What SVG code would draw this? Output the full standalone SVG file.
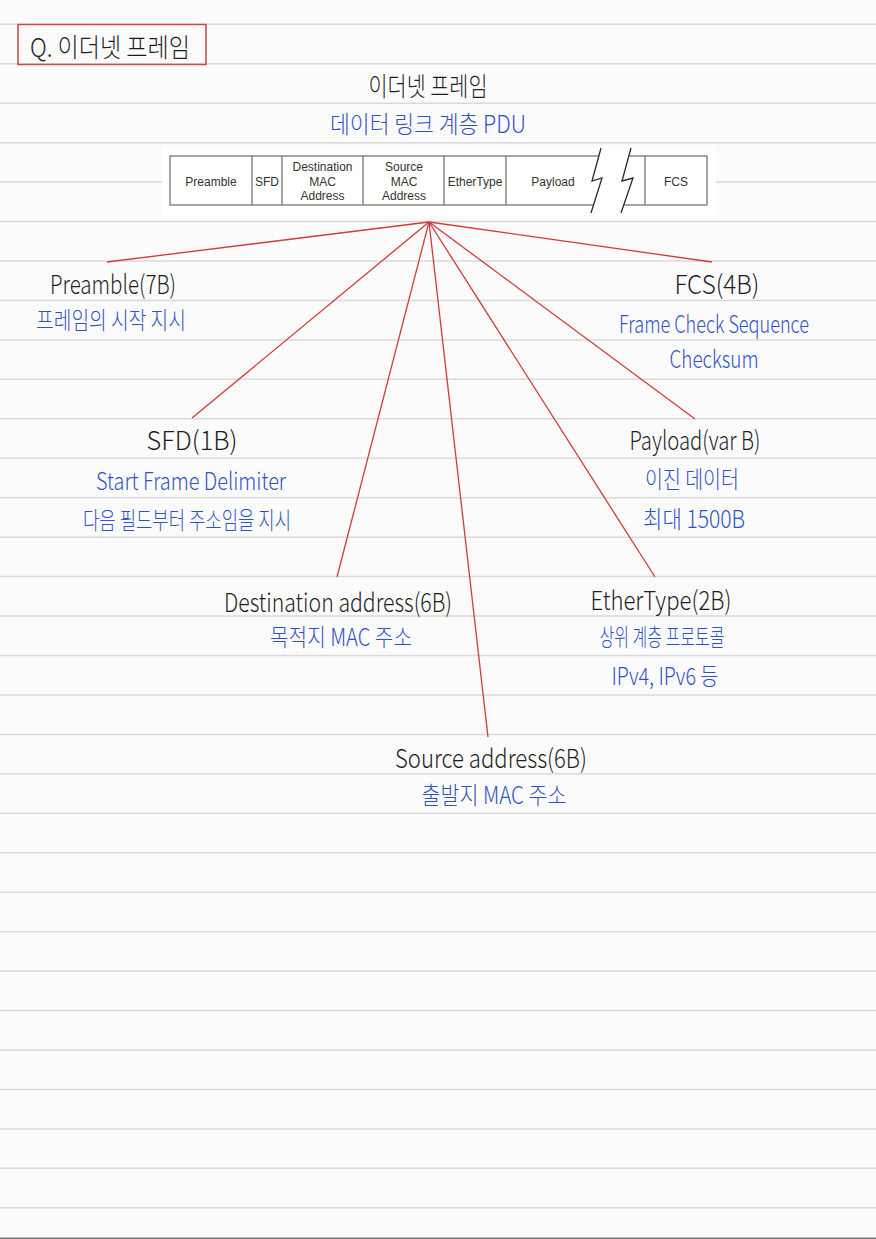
<svg xmlns="http://www.w3.org/2000/svg" width="876" height="1239" viewBox="0 0 876 1239">
<style>
.pl{stroke:#dadada;stroke-width:1.5}
.hk{font-family:"Noto Sans CJK KR","Noto Sans",sans-serif;font-weight:300;fill:#1e1e1e;font-size:26px;text-anchor:middle}
.hb{font-family:"Noto Sans CJK KR","Noto Sans",sans-serif;font-weight:300;fill:#3051c4;font-size:24px;text-anchor:middle}
.tt{font-family:"Liberation Sans",Arial,sans-serif;font-size:12px;fill:#333330;text-anchor:middle}
.cell{stroke:#77776e;stroke-width:1.3;fill:none}
.conn{stroke:#d23a3a;stroke-width:1.3;fill:none}
</style>
<defs>
<linearGradient id="beige" x1="0" y1="0" x2="0" y2="1">
<stop offset="0" stop-color="#e5ddcc"/>
<stop offset="1" stop-color="#f8f5ed"/>
</linearGradient>
</defs>
<rect x="0" y="0" width="876" height="1239" fill="#fbfbfb"/>
<g id="paper-lines">
<line class="pl" x1="0" y1="24.3" x2="876" y2="24.3"/>
<line class="pl" x1="0" y1="63.75" x2="876" y2="63.75"/>
<line class="pl" x1="0" y1="103.2" x2="876" y2="103.2"/>
<line class="pl" x1="0" y1="142.65" x2="876" y2="142.65"/>
<line class="pl" x1="0" y1="182.1" x2="876" y2="182.1"/>
<line class="pl" x1="0" y1="221.55" x2="876" y2="221.55"/>
<line class="pl" x1="0" y1="261" x2="876" y2="261"/>
<line class="pl" x1="0" y1="300.45" x2="876" y2="300.45"/>
<line class="pl" x1="0" y1="339.9" x2="876" y2="339.9"/>
<line class="pl" x1="0" y1="379.35" x2="876" y2="379.35"/>
<line class="pl" x1="0" y1="418.8" x2="876" y2="418.8"/>
<line class="pl" x1="0" y1="458.25" x2="876" y2="458.25"/>
<line class="pl" x1="0" y1="497.7" x2="876" y2="497.7"/>
<line class="pl" x1="0" y1="537.15" x2="876" y2="537.15"/>
<line class="pl" x1="0" y1="576.6" x2="876" y2="576.6"/>
<line class="pl" x1="0" y1="616.05" x2="876" y2="616.05"/>
<line class="pl" x1="0" y1="655.5" x2="876" y2="655.5"/>
<line class="pl" x1="0" y1="694.95" x2="876" y2="694.95"/>
<line class="pl" x1="0" y1="734.4" x2="876" y2="734.4"/>
<line class="pl" x1="0" y1="773.85" x2="876" y2="773.85"/>
<line class="pl" x1="0" y1="813.3" x2="876" y2="813.3"/>
<line class="pl" x1="0" y1="852.75" x2="876" y2="852.75"/>
<line class="pl" x1="0" y1="892.2" x2="876" y2="892.2"/>
<line class="pl" x1="0" y1="931.65" x2="876" y2="931.65"/>
<line class="pl" x1="0" y1="971.1" x2="876" y2="971.1"/>
<line class="pl" x1="0" y1="1010.55" x2="876" y2="1010.55"/>
<line class="pl" x1="0" y1="1050" x2="876" y2="1050"/>
<line class="pl" x1="0" y1="1089.45" x2="876" y2="1089.45"/>
<line class="pl" x1="0" y1="1128.9" x2="876" y2="1128.9"/>
<line class="pl" x1="0" y1="1168.35" x2="876" y2="1168.35"/>
<line class="pl" x1="0" y1="1207.8" x2="876" y2="1207.8"/>
<line x1="0" y1="1238.3" x2="876" y2="1238.3" stroke="#777" stroke-width="1.5"/>
</g>
<g id="title">
<rect x="18" y="24.5" width="188" height="40" fill="none" stroke="#d04545" stroke-width="1.5"/>
<text x="110" y="57" class="hk" font-size="27" textLength="160" lengthAdjust="spacingAndGlyphs">Q. 이더넷 프레임</text>
</g>
<g id="heading">
<text x="428" y="96" class="hk" font-size="27" textLength="119" lengthAdjust="spacingAndGlyphs">이더넷 프레임</text>
<text x="428" y="133" class="hb" textLength="196" lengthAdjust="spacingAndGlyphs">데이터 링크 계층 PDU</text>
</g>
<g id="frame">
<rect x="162" y="146" width="554" height="70" fill="#ffffff"/>
<rect x="170" y="156" width="537" height="49" fill="url(#beige)" class="cell"/>
<line class="cell" x1="252" y1="156" x2="252" y2="205"/>
<line class="cell" x1="282" y1="156" x2="282" y2="205"/>
<line class="cell" x1="363" y1="156" x2="363" y2="205"/>
<line class="cell" x1="444" y1="156" x2="444" y2="205"/>
<line class="cell" x1="506" y1="156" x2="506" y2="205"/>
<line class="cell" x1="645" y1="156" x2="645" y2="205"/>
<polygon points="601,148 592,181 602,178 591,213 621,213 633,178 622,181 631,148" fill="#ffffff"/>
<polyline points="601,148 592,181 602,178 591,213" fill="none" stroke="#2a2a2a" stroke-width="1.3"/>
<polyline points="631,148 622,181 633,178 621,213" fill="none" stroke="#2a2a2a" stroke-width="1.3"/>
<text class="tt" x="211" y="185.5">Preamble</text>
<text class="tt" x="267" y="185.5">SFD</text>
<text class="tt" x="322.5" y="171">Destination</text>
<text class="tt" x="322.5" y="185.5">MAC</text>
<text class="tt" x="322.5" y="200">Address</text>
<text class="tt" x="404" y="171">Source</text>
<text class="tt" x="404" y="185.5">MAC</text>
<text class="tt" x="404" y="200">Address</text>
<text class="tt" x="475" y="185.5">EtherType</text>
<text class="tt" x="553" y="185.5">Payload</text>
<text class="tt" x="676" y="185.5">FCS</text>
</g>
<g id="connectors">
<line class="conn" x1="429" y1="222" x2="107" y2="262"/>
<line class="conn" x1="429" y1="222" x2="192" y2="418"/>
<line class="conn" x1="429" y1="222" x2="337" y2="577"/>
<line class="conn" x1="429" y1="222" x2="488" y2="737"/>
<line class="conn" x1="429" y1="222" x2="655" y2="577"/>
<line class="conn" x1="429" y1="222" x2="695" y2="419"/>
<line class="conn" x1="429" y1="222" x2="712" y2="262"/>
</g>
<g id="node-preamble">
<text x="113" y="294" class="hk" textLength="126" lengthAdjust="spacingAndGlyphs">Preamble(7B)</text>
<text x="111" y="329" class="hb" textLength="150" lengthAdjust="spacingAndGlyphs">프레임의 시작 지시</text>
</g>
<g id="node-fcs">
<text x="717" y="294" class="hk" textLength="85" lengthAdjust="spacingAndGlyphs">FCS(4B)</text>
<text x="714" y="333" class="hb" textLength="190" lengthAdjust="spacingAndGlyphs">Frame Check Sequence</text>
<text x="714" y="368" class="hb" textLength="89" lengthAdjust="spacingAndGlyphs">Checksum</text>
</g>
<g id="node-sfd">
<text x="192" y="450" class="hk" textLength="91" lengthAdjust="spacingAndGlyphs">SFD(1B)</text>
<text x="191" y="490" class="hb" textLength="190" lengthAdjust="spacingAndGlyphs">Start Frame Delimiter</text>
<text x="187" y="529" class="hb" textLength="208" lengthAdjust="spacingAndGlyphs">다음 필드부터 주소임을 지시</text>
</g>
<g id="node-payload">
<text x="695" y="450" class="hk" textLength="131" lengthAdjust="spacingAndGlyphs">Payload(var B)</text>
<text x="692" y="488" class="hb" textLength="94" lengthAdjust="spacingAndGlyphs">이진 데이터</text>
<text x="694" y="528" class="hb" textLength="102" lengthAdjust="spacingAndGlyphs">최대 1500B</text>
</g>
<g id="node-destination">
<text x="338" y="612" class="hk" textLength="228" lengthAdjust="spacingAndGlyphs">Destination address(6B)</text>
<text x="341" y="646" class="hb" textLength="142" lengthAdjust="spacingAndGlyphs">목적지 MAC 주소</text>
</g>
<g id="node-ethertype">
<text x="661" y="610" class="hk" textLength="141" lengthAdjust="spacingAndGlyphs">EtherType(2B)</text>
<text x="662" y="646" class="hb" textLength="125" lengthAdjust="spacingAndGlyphs">상위 계층 프로토콜</text>
<text x="665" y="685" class="hb" textLength="107" lengthAdjust="spacingAndGlyphs">IPv4, IPv6 등</text>
</g>
<g id="node-source">
<text x="491" y="768" class="hk" textLength="192" lengthAdjust="spacingAndGlyphs">Source address(6B)</text>
<text x="494" y="804" class="hb" textLength="145" lengthAdjust="spacingAndGlyphs">출발지 MAC 주소</text>
</g>
</svg>
